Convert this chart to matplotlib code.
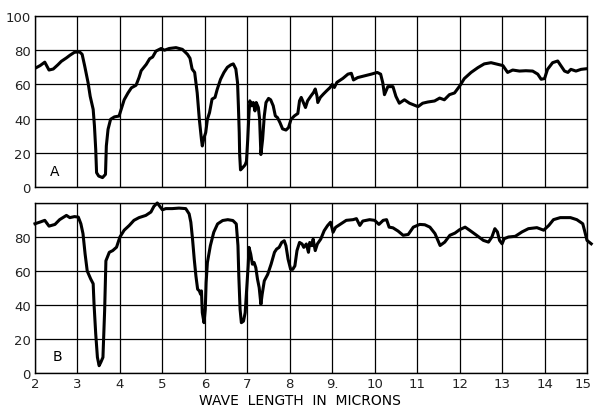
import matplotlib
matplotlib.use("Agg")
import matplotlib.pyplot as plt
import matplotlib.transforms as mtransforms

# ---- data: panel A (wavelength in microns, % transmission) ----
a_x = [2.0, 2.12, 2.23, 2.33, 2.43, 2.54, 2.62, 2.74, 2.82, 2.93, 3.05, 3.11, 3.17, 3.25, 3.3, 3.37,
       3.4, 3.43, 3.45, 3.5, 3.59, 3.66, 3.68, 3.72, 3.78, 3.87, 3.98, 4.03, 4.1, 4.19, 4.27, 4.38,
       4.45, 4.5, 4.62, 4.7, 4.77, 4.85, 4.97, 5.05, 5.16, 5.32, 5.47, 5.59, 5.65, 5.7, 5.76, 5.82,
       5.87, 5.92, 5.94, 5.98, 6.02, 6.06, 6.11, 6.17, 6.24, 6.29, 6.37, 6.45, 6.53, 6.61, 6.67,
       6.73, 6.77, 6.79, 6.81, 6.82, 6.84, 6.88, 6.95, 6.98, 7.01, 7.04, 7.06, 7.1, 7.14, 7.18,
       7.21, 7.26, 7.29, 7.32, 7.36, 7.4, 7.44, 7.5, 7.55, 7.61, 7.66, 7.71, 7.77, 7.83, 7.91,
       7.97, 8.03, 8.11, 8.19, 8.23, 8.27, 8.32, 8.37, 8.42, 8.5, 8.56, 8.6, 8.64, 8.66, 8.72,
       8.79, 8.87, 8.95, 9.0, 9.05, 9.11, 9.17, 9.25, 9.37, 9.45, 9.5, 9.6, 9.76, 9.92, 10.06,
       10.14, 10.19, 10.23, 10.31, 10.43, 10.5, 10.58, 10.7, 10.82, 10.94, 11.02, 11.13, 11.25,
       11.41, 11.53, 11.64, 11.76, 11.88, 12.0, 12.11, 12.27, 12.43, 12.58, 12.74, 12.9, 13.02,
       13.13, 13.25, 13.41, 13.56, 13.72, 13.84, 13.92, 14.0, 14.07, 14.19, 14.31, 14.39, 14.47,
       14.55, 14.62, 14.74, 14.86, 15.0]
a_y = [69.4, 71.0, 73.0, 68.4, 69.0, 71.5, 73.5, 75.5, 77.0, 78.8, 79.0, 77.6, 70.8, 61.0, 53.0, 45.4,
       35.7, 22.0, 8.4, 6.4, 5.5, 7.4, 24.0, 33.7, 39.6, 41.0, 41.5, 45.4, 51.0, 55.0, 58.0, 59.5,
       64.0, 68.0, 71.7, 75.0, 76.0, 79.5, 81.0, 80.0, 81.0, 81.5, 80.5, 77.6, 75.3, 69.0, 67.0, 55.0,
       39.6, 27.8, 24.0, 28.8, 31.8, 39.6, 43.5, 51.4, 52.4, 57.0, 63.0, 67.0, 70.0, 71.4, 72.0,
       69.0, 61.0, 47.5, 31.8, 19.0, 10.0, 11.0, 13.0, 15.0, 27.8, 43.5, 50.4, 47.5, 49.4, 44.5,
       49.4, 46.5, 39.6, 19.0, 27.8, 41.6, 49.4, 51.8, 51.0, 47.5, 41.6, 40.6, 37.6, 34.0, 33.3,
       34.7, 39.6, 41.6, 43.0, 50.4, 52.4, 49.4, 46.5, 50.4, 53.3, 55.3, 57.3, 53.3, 49.4, 52.4,
       54.3, 56.3, 58.2, 60.0, 58.2, 61.2, 62.2, 63.5, 66.0, 66.5, 62.6, 64.0, 65.0, 66.0, 67.0,
       66.0, 61.0, 54.0, 58.7, 58.7, 53.0, 49.0, 51.0, 49.0, 47.8, 47.0, 49.0, 49.7,
       50.3, 52.0, 51.0, 54.0, 55.0, 59.0, 63.4, 67.0, 69.8, 72.0, 72.7, 71.7, 71.0,
       67.0, 68.4, 67.8, 68.0, 67.8, 66.0, 63.0, 63.4, 68.8, 72.7, 73.7, 70.8, 67.8,
       67.0, 68.8, 67.8, 68.8, 69.2]

# ---- data: panel B ----
b_x = [2.0, 2.12, 2.23, 2.33, 2.47, 2.58, 2.74, 2.82, 2.93, 3.02, 3.08, 3.13, 3.18, 3.23, 3.31, 3.37,
       3.39, 3.43, 3.47, 3.51, 3.55, 3.6, 3.64, 3.67, 3.75, 3.83, 3.92, 4.0, 4.1, 4.22, 4.33, 4.45,
       4.61, 4.73, 4.8, 4.88, 4.94, 5.0, 5.08, 5.23, 5.39, 5.55, 5.63, 5.67, 5.71, 5.75, 5.79,
       5.83, 5.87, 5.9, 5.92, 5.94, 5.98, 6.01, 6.03, 6.06, 6.13, 6.21, 6.3, 6.42, 6.54, 6.66,
       6.74, 6.78, 6.8, 6.83, 6.86, 6.91, 6.95, 6.98, 7.02, 7.04, 7.08, 7.12, 7.16, 7.2, 7.24,
       7.28, 7.32, 7.35, 7.4, 7.48, 7.56, 7.64, 7.69, 7.75, 7.81, 7.87, 7.91, 7.96, 8.02, 8.07,
       8.12, 8.17, 8.23, 8.29, 8.33, 8.39, 8.44, 8.47, 8.52, 8.55, 8.6, 8.65, 8.73, 8.81, 8.89,
       8.96, 9.02, 9.08, 9.2, 9.33, 9.49, 9.57, 9.65, 9.72, 9.88, 10.0, 10.1, 10.2, 10.28, 10.34,
       10.43, 10.55, 10.67, 10.79, 10.91, 11.06, 11.18, 11.3, 11.42, 11.54, 11.65, 11.77, 11.89,
       12.0, 12.13, 12.24, 12.4, 12.56, 12.68, 12.76, 12.83, 12.89, 12.94, 13.0, 13.05, 13.15,
       13.31, 13.47, 13.62, 13.82, 13.98, 14.1, 14.21, 14.37, 14.61, 14.76, 14.9, 14.94, 15.0, 15.1]
b_y = [87.8, 88.8, 89.8, 86.4, 87.4, 90.2, 92.7, 91.4, 92.0, 91.7, 87.8, 82.0, 70.0, 60.0, 55.4, 52.5,
       40.7, 23.0, 9.2, 4.3, 6.3, 9.2, 36.7, 66.0, 71.0, 72.0, 74.0, 80.0, 84.0, 86.8, 89.8, 91.4,
       92.7, 94.7, 98.0, 100.0, 98.0, 96.0, 96.7, 96.7, 97.0, 96.7, 93.6, 88.7, 78.8, 67.0, 57.0,
       49.3, 48.3, 46.3, 48.3, 35.5, 29.6, 37.4, 53.2, 65.0, 74.9, 82.8, 87.7, 89.7, 90.2, 89.7,
       87.7, 74.9, 57.0, 37.4, 29.6, 30.5, 35.5, 47.3, 63.0, 73.9, 70.0, 64.0, 65.0, 62.0, 55.2,
       50.2, 40.4, 46.3, 54.2, 58.0, 64.0, 71.0, 72.9, 73.9, 76.8, 77.8, 74.9, 67.0, 61.0, 61.0,
       63.0, 72.0, 76.8, 75.9, 73.9, 75.9, 71.0, 76.8, 74.9, 78.8, 72.0, 75.9, 78.8, 83.7, 86.7,
       88.7, 82.8, 85.7, 87.7, 89.8, 90.2, 90.8, 86.8, 89.4, 90.2, 89.8, 87.4, 89.8, 90.2, 85.8,
       85.4, 83.5, 81.0, 81.5, 85.8, 87.4, 87.2, 85.8, 82.0, 75.0, 77.0, 81.0, 82.3,
       84.3, 85.8, 83.9, 81.0, 78.0, 77.0, 80.0, 84.9, 83.0, 78.0, 76.0, 79.0, 80.0,
       80.4, 83.0, 84.9, 85.5, 84.0, 86.8, 90.2, 91.4, 91.4, 90.2, 87.8, 84.0, 78.0, 76.0]

x_ticks = [2, 3, 4, 5, 6, 7, 8, 9, 10, 11, 12, 13, 14, 15]
x_tick_labels = ['2', '3', '4', '5', '6', '7', '8', '9.', '10', '11', '12', '13', '14', '15']
a_yticks = [0, 20, 40, 60, 80, 100]
b_yticks = [0, 20, 40, 60, 80]
panel_labels = ['A', 'B']
x_label = 'WAVE  LENGTH  IN  MICRONS'

plt.rcParams['font.family'] = ['DejaVu Sans']

fig = plt.figure(figsize=(5.94, 4.10), dpi=100)
ax_a = fig.add_axes([35 / 594, 1 - 188 / 410, 552 / 594, 171 / 410])
ax_b = fig.add_axes([35 / 594, 1 - 374 / 410, 552 / 594, 170 / 410])


def style(ax, yticks, show_x):
    ax.set_xlim(2, 15)
    ax.set_ylim(0, 100)
    ax.set_xticks(x_ticks)
    ax.set_yticks(yticks)
    ax.grid(True, color='black', linewidth=0.9)
    ax.set_axisbelow(True)
    ax.tick_params(length=0, labelsize=9.5, pad=3, colors='#222222')
    for s in ax.spines.values():
        s.set_linewidth(1.0)
        s.set_color('black')
    if show_x:
        ax.set_xticklabels(x_tick_labels)
    else:
        ax.set_xticklabels([])


style(ax_a, a_yticks, False)
style(ax_b, b_yticks, True)
ax_b.set_yticks([100], minor=True)
ax_b.yaxis.grid(True, which='minor', color='black', linewidth=0.9)
ax_b.tick_params(which='minor', length=0)

# nudge the last x label inside the figure
last = ax_b.get_xticklabels()[-1]
last.set_transform(last.get_transform() +
                   mtransforms.ScaledTranslation(-4 / 100, 0, fig.dpi_scale_trans))

ax_a.plot(a_x, a_y, color='black', linewidth=2.2, solid_joinstyle='round')
ax_b.plot(b_x, b_y, color='black', linewidth=2.2, solid_joinstyle='round', clip_on=False)

ax_a.text(2.47, 9.5, panel_labels[0], fontsize=10, ha='center', va='center')
ax_b.text(2.52, 10, panel_labels[1], fontsize=10, ha='center', va='center')

fig.text(300 / 594, 1 - 401 / 410, x_label, fontsize=10, ha='center', va='center')

fig.savefig('out.png', dpi=100)
